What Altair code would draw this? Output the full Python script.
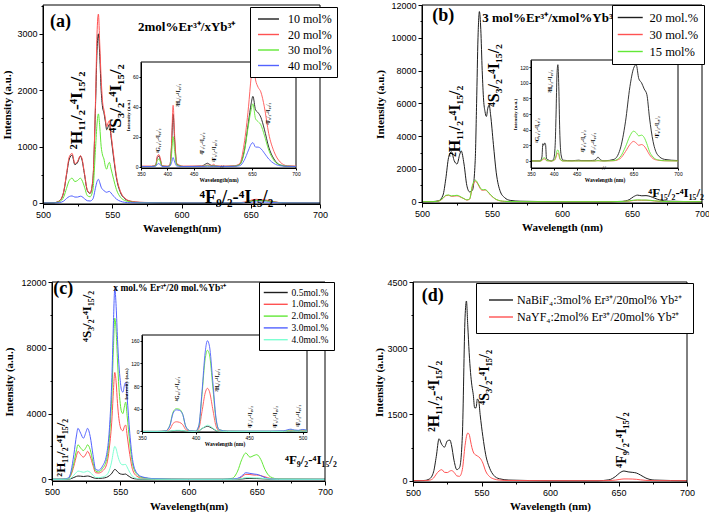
import altair as alt
import pandas as pd

SERIF = "Liberation Serif"
SANS = "Liberation Sans"
BLACK = "#1e1e1e"
RED = "#ff5252"
GREEN = "#62e836"
BLUE = "#5262ff"
CYAN = "#7dffd2"

# ---------------- main spectra: wavelength grids ----------------
wl_main = [500, 508, 512, 515, 517, 519, 521, 523, 525, 527, 528, 530, 532, 534, 536, 538, 539, 540,
           541, 542, 543, 544, 545, 546, 547, 548, 549, 551, 553, 556, 559, 563, 570, 600, 635, 643,
           648, 651, 654, 657, 660, 663, 666, 670, 676, 700]

# panel (a): 2mol% Er / x Yb
a_10 = [0, 5, 40, 200, 500, 780, 850, 680, 720, 830, 780, 500, 220, 170, 400, 1800, 2700, 3000,
        2600, 2000, 1700, 1600, 1450, 1300, 1350, 1400, 1200, 800, 450, 180, 80, 30, 10, 0, 0, 5,
        20, 40, 50, 45, 45, 35, 20, 8, 2, 0]
a_20 = [0, 5, 40, 210, 520, 820, 880, 700, 740, 840, 800, 520, 230, 175, 420, 1900, 3000, 3350,
        2800, 2200, 1800, 1650, 1500, 1350, 1420, 1460, 1250, 850, 480, 200, 90, 35, 12, 0, 0, 8,
        30, 55, 65, 58, 55, 45, 25, 10, 3, 0]
a_30 = [0, 3, 25, 110, 260, 400, 440, 380, 400, 440, 410, 280, 130, 110, 230, 1000, 1400, 1580,
        1350, 1000, 850, 780, 650, 600, 680, 720, 620, 420, 240, 100, 45, 18, 6, 0, 0, 4,
        18, 35, 42, 38, 38, 30, 18, 7, 2, 0]
a_40 = [0, 1, 8, 35, 80, 115, 125, 105, 105, 120, 115, 75, 40, 35, 70, 280, 380, 420,
        360, 280, 240, 220, 200, 190, 200, 205, 180, 120, 70, 30, 12, 5, 2, 0, 0, 2,
        8, 15, 18, 16, 16, 13, 8, 3, 1, 0]

# panel (b): 3 mol% Er / x mol% Yb
b_20 = [0, 10, 60, 400, 1400, 2700, 3050, 2500, 2300, 2900, 3100, 2300, 1000, 600, 700, 2500, 6000, 10000,
        11600, 10500, 8000, 6200, 5500, 5200, 5700, 5900, 5300, 3500, 1800, 600, 250, 80, 30, 0, 0, 20,
        120, 300, 400, 360, 370, 320, 220, 100, 30, 0]
b_30 = [0, 5, 40, 200, 370, 390, 330, 340, 360, 300, 260, 180, 100, 150, 900, 1250, 1200, 1050,
        900, 750, 700, 700, 720, 680, 600, 500, 400, 250, 130, 50, 20, 8, 3, 0, 0, 10,
        40, 70, 90, 85, 85, 70, 45, 20, 5, 0]
b_15 = [0, 5, 45, 220, 390, 410, 350, 370, 390, 330, 280, 190, 110, 170, 1000, 1320, 1250, 1100,
        950, 800, 740, 730, 740, 700, 620, 520, 420, 260, 140, 55, 22, 9, 3, 0, 0, 12,
        50, 90, 110, 100, 100, 85, 55, 25, 6, 0]

# panel (d): NaBiF4 vs NaYF4
d_bi = [0, 5, 40, 200, 550, 950, 820, 760, 900, 920, 820, 450, 250, 300, 1000, 3700, 4070, 3500,
        2900, 2450, 2150, 1950, 1650, 1650, 1850, 1800, 1500, 1000, 600, 280, 120, 45, 15, 0, 0, 20,
        100, 180, 220, 200, 190, 175, 130, 60, 15, 0]
d_y = [0, 2, 12, 60, 150, 220, 250, 190, 185, 220, 230, 190, 110, 100, 250, 800, 1000, 1080,
       1050, 900, 750, 650, 600, 580, 560, 540, 510, 400, 220, 90, 40, 15, 5, 0, 0, 3,
       15, 30, 40, 40, 38, 32, 20, 8, 2, 0]

# panel (c): x mol% Er / 20 mol% Yb
wl_c = [500, 508, 512, 514, 516, 518, 519, 521, 523, 525, 526, 528, 530, 532, 534, 537, 540, 542,
        544, 545, 546, 547, 548, 549, 550, 551, 552, 553, 554, 555, 557, 559, 562, 566, 575, 600,
        625, 632, 636, 639, 642, 645, 648, 650, 653, 656, 660, 666, 700]
c_05 = [0, 1, 8, 40, 110, 180, 200, 190, 170, 190, 200, 170, 100, 60, 55, 70, 120, 220,
        380, 520, 600, 560, 460, 380, 330, 310, 300, 310, 320, 260, 150, 60, 20, 8, 2, 0,
        0, 0, 5, 20, 45, 50, 45, 45, 35, 25, 8, 1, 0]
c_10 = [0, 5, 50, 280, 800, 1450, 1700, 1500, 1350, 1550, 1700, 1400, 850, 400, 380, 500, 900, 1900,
        3800, 5400, 6500, 5900, 4600, 3700, 3200, 3000, 2950, 3200, 3300, 2700, 1500, 600, 200, 70, 20, 0,
        0, 0, 30, 150, 300, 290, 260, 260, 220, 150, 50, 5, 0]
c_20 = [0, 8, 60, 350, 1000, 1800, 2100, 1900, 1750, 1950, 2100, 1800, 1050, 500, 450, 650, 1200, 2500,
        5500, 8000, 9800, 9000, 7200, 5600, 4600, 4100, 4000, 4400, 4700, 3900, 2200, 950, 320, 120, 30, 0,
        0, 60, 500, 1200, 1600, 1350, 1450, 1500, 1200, 600, 150, 20, 0]
c_30 = [0, 10, 80, 500, 1500, 2700, 3100, 2800, 2500, 2900, 3100, 2600, 1500, 600, 550, 800, 1500, 3000,
        6500, 9500, 11600, 10500, 8500, 7000, 6000, 5400, 5300, 5700, 5900, 5000, 2800, 1200, 400, 150, 40, 0,
        0, 20, 60, 200, 400, 360, 320, 300, 220, 100, 25, 5, 0]
c_40 = [0, 2, 15, 80, 250, 430, 500, 470, 430, 470, 500, 420, 250, 110, 100, 140, 260, 550,
        1200, 1700, 2000, 1850, 1500, 1200, 1000, 900, 880, 900, 900, 750, 420, 180, 60, 20, 5, 0,
        0, 0, 10, 50, 100, 95, 85, 85, 70, 45, 15, 2, 0]

# ---------------- inset spectra ----------------
wl_ia = [350, 370, 378, 381, 384, 387, 390, 400, 405, 408, 411, 414, 418, 430, 465, 472, 476, 480, 485,
         488, 492, 502, 617, 630, 636, 641, 646, 649, 651, 654, 657, 660, 664, 669, 675, 682, 690, 700]
ia_10 = [0, 0, 1, 6, 7, 4, 0.3, 0, 1, 13, 35, 17, 1.5, 0, 0.3, 1.5, 2.2, 1.5, 0.5,
         0.5, 0.3, 0, 0, 0.3, 1.5, 10, 30, 42, 47, 38, 36, 33, 25, 13, 5, 1, 0.2, 0]
ia_20 = [0.3, 0.3, 1, 7, 8, 5, 0.5, 0.3, 1, 15, 41, 20, 2, 0.3, 0.3, 0.5, 1, 0.8, 0.8,
         1.5, 0.5, 0.3, 0.3, 0.5, 2, 15, 40, 60, 70, 58, 53, 50, 40, 22, 10, 3, 0.5, 0.3]
ia_30 = [0, 0, 0.5, 4, 5, 3, 0.2, 0, 0.5, 8, 20, 10, 1, 0, 0, 0.3, 0.5, 0.3, 0.2,
         0.3, 0.2, 0, 0, 0.2, 1.2, 9, 28, 38, 42, 32, 30, 28, 21, 11, 4, 1, 0.2, 0]
ia_40 = [0, 0, 0.2, 1.5, 2, 1, 0, 0, 0.3, 2.5, 6, 3, 0.3, 0, 0, 0.1, 0.2, 0.1, 0.1,
         0.1, 0.1, 0, 0, 0.1, 0.5, 4, 11, 15, 16, 13, 13, 12, 9, 5, 2, 0.5, 0.1, 0]

wl_ib = [350, 370, 374, 376, 378, 380, 382, 384, 395, 400, 403, 405, 407, 409, 411, 413, 416, 420, 440,
         455, 460, 480, 490, 494, 497, 500, 504, 508, 618, 628, 635, 641, 646, 650, 653, 656, 659, 662,
         665, 668, 672, 677, 685, 700]
ib_20 = [0, 0, 5, 22, 20, 23, 21, 3, 0, 3, 20, 60, 110, 123, 95, 40, 8, 1, 0.3,
         1, 0.5, 0.5, 1, 3, 5, 3, 1, 0.3, 0.3, 2, 15, 50, 95, 118, 123, 105, 100, 92,
         85, 55, 25, 8, 2, 0.5]
ib_30 = [0, 0, 0.5, 2, 2.5, 2.5, 2, 0.3, 0, 0.5, 2, 5, 9, 10, 8, 3, 0.8, 0, 0,
         0, 0, 0, 0, 0.2, 0.3, 0.2, 0, 0, 0, 0.3, 3, 12, 21, 25, 23, 20, 21, 19,
         14, 8, 3, 1, 0.2, 0]
ib_15 = [0, 0, 1, 3, 4, 4, 3, 0.5, 0, 0.8, 3, 7, 13, 14, 11, 4, 1, 0, 0,
         0, 0, 0, 0, 0.3, 0.5, 0.3, 0, 0, 0, 0.5, 5, 18, 32, 38, 36, 32, 33, 30,
         22, 12, 5, 1.5, 0.3, 0]

wl_ic = [350, 365, 372, 376, 379, 382, 385, 388, 391, 395, 400, 403, 406, 409, 411, 413, 416, 419, 422,
         430, 450, 470, 482, 486, 489, 492, 496, 500, 504]
ic_05 = [0, 0, 0, 0.3, 1, 1.5, 1.5, 1, 0.3, 0, 0, 1, 5, 8, 9, 8, 5, 1.5, 0.2, 0, 0, 0, 0, 0.2, 0.3,
         0.2, 0.1, 0.2, 0.1]
ic_10 = [0, 0, 0.5, 4, 14, 17, 16, 12, 3, 0.5, 0.3, 5, 35, 68, 76, 70, 40, 10, 1, 0.3, 0, 0, 0.3, 1,
         1.5, 1, 0.8, 1.2, 0.8]
ic_20 = [0, 0, 1, 11, 34, 40, 39, 30, 8, 1, 0.5, 9, 65, 128, 143, 135, 80, 22, 3, 0.5, 0.3, 0.3, 0.5,
         2, 3, 2, 1.5, 3, 1.5]
ic_30 = [0, 0, 1, 10, 32, 38, 37, 30, 8, 1, 0.5, 10, 70, 140, 160, 150, 90, 25, 3, 0.5, 0.5, 0.5, 1,
         3, 4, 2.5, 2, 3.5, 2]
ic_40 = [0, 0, 0, 0.5, 1.5, 2, 2, 1.5, 0.5, 0, 0, 1, 5, 9, 11, 10, 6, 2, 0.3, 0, 0, 0, 0, 0.3, 0.5,
         0.3, 0.2, 0.3, 0.2]

# ---------------- series names ----------------
names_a = ["10 mol%", "20 mol%", "30 mol%", "40 mol%"]
names_b = ["20 mol.%", "30 mol.%", "15 mol%"]
names_c = ["0.5mol.%", "1.0mol.%", "2.0mol.%", "3.0mol.%", "4.0mol.%"]
names_d = ["NaBiF\u2084:3mol% Er\u00b3\u207a/20mol% Yb\u00b2\u207a",
           "NaYF\u2084:2mol% Er\u00b3\u207a/20mol% Yb\u00b2\u207a"]

# ---------------- annotation texts ----------------
T_H = "\u00b2H\u2081\u2081/\u2082-\u2074I\u2081\u2085/\u2082"
T_S = "\u2074S\u2083/\u2082-\u2074I\u2081\u2085/\u2082"
T_F = "\u2074F\u2089/\u2082-\u2074I\u2081\u2085/\u2082"
T_F15 = "\u2074F\u2081\u2085/\u2082-\u2074I\u2081\u2085/\u2082"
T_G = "\u2074G\u2081\u2081/\u2082-\u2074I\u2081\u2085/\u2082"
T_H9 = "\u00b2H\u2089/\u2082-\u2074I\u2081\u2085/\u2082"
T_F7 = "\u2074F\u2087/\u2082-\u2074I\u2081\u2085/\u2082"
T_F5 = "\u2074F\u2085/\u2082-\u2074I\u2081\u2085/\u2082"
T_F3 = "\u2074F\u2083/\u2082-\u2074I\u2081\u2085/\u2082"

title_a = "2mol%Er\u00b3\u207a/xYb\u00b3\u207a"
title_b = "3 mol%Er\u00b3\u207a/xmol%Yb\u00b3\u207a"
title_c = "x mol.% Er\u00b3\u207a/20 mol.%Yb\u00b3\u207a"

# annotation anchors (data units of each panel)
a_rot_t, a_rot_x, a_rot_y = [T_H, T_S], [524.2, 552.7], [950, 1241]
b_rot_t, b_rot_x, b_rot_y = [T_H, T_S], [523.8, 551.6], [2725, 5775]
c_rot_t, c_rot_x, c_rot_y = [T_S, T_H], [525.6, 506.8], [8355, 158]
d_rot_t, d_rot_x, d_rot_y = [T_H], [515.1], [1104]
d_rot2_t, d_rot2_x, d_rot2_y = [T_S, T_F], [552.4, 652.5], [1716, 288]

ia_lab_t = [T_G, T_H9, T_F7, T_F5, T_F]
ia_lab_x = [382, 420, 466, 489, 668]
ia_lab_y = [9, 40, 8, 3, 28]
ib_lab_t = [T_G, T_H9, T_F5, T_F7, T_F]
ib_lab_x = [364, 392, 464, 486, 676]
ib_lab_y = [23, 87, 11, 8, 29]
ic_lab_t = [T_G, T_H9, T_F3, T_F5, T_F7]
ic_lab_x = [383, 420, 451, 474, 496]
ic_lab_y = [53, 70, 6, 6, 8]


def long_df(xs, cols, names):
    rows = []
    for name, vals in zip(names, cols):
        assert len(vals) == len(xs), (name, len(vals), len(xs))
        for x, v in zip(xs, vals):
            rows.append({"x": x, "y": v, "s": name})
    return pd.DataFrame(rows)


def sc(d, r):
    return alt.Scale(domain=d, range=r, nice=False, zero=False)


def axis(orient, offset, values, title=None, lab=9, tsize=11, tpad=3, tick=4,
         labels=True, domain=True, lpad=2, tfont=SERIF):
    return alt.Axis(orient=orient, offset=offset, values=values, title=title, grid=False,
                    format="d", labels=labels, domain=domain, domainColor="black", domainWidth=1,
                    ticks=True, tickSize=tick, tickColor="black", tickWidth=1,
                    labelFont=SANS, labelFontSize=lab, labelColor="black", labelPadding=lpad,
                    labelFlush=False, labelOverlap=False, titleFont=tfont, titleFontSize=tsize,
                    titleFontWeight="bold", titleColor="black", titlePadding=tpad, zindex=1)


def lines(df, xs, ys, names, colors, xax, yax, legend, width=1.0):
    return alt.Chart(df).mark_line(strokeWidth=width, interpolate="monotone").encode(
        x=alt.X("x:Q", scale=xs, axis=xax),
        y=alt.Y("y:Q", scale=ys, axis=yax),
        color=alt.Color("s:N", scale=alt.Scale(domain=names, range=colors), legend=legend),
    )


def frame(xs, ys, xd, yd, fill="white", opacity=0.0, xax=None, yax=None):
    df = pd.DataFrame({"x": [xd[0]], "x2": [xd[-1]], "y": [yd[0]], "y2": [yd[-1]]})
    return alt.Chart(df).mark_rect(fill=fill, fillOpacity=opacity, stroke="black",
                                   strokeWidth=1).encode(
        x=alt.X("x:Q", scale=xs, axis=xax), x2="x2",
        y=alt.Y("y:Q", scale=ys, axis=yax), y2="y2")


def texts(tl, xl, yl, xs, ys, size, angle=0, weight="bold", font=SERIF, align="left"):
    df = pd.DataFrame({"t": tl, "x": xl, "y": yl})
    return alt.Chart(df).mark_text(fontSize=size, angle=angle, align=align, baseline="middle",
                                   font=font, fontWeight=weight, color="black").encode(
        x=alt.X("x:Q", scale=xs, axis=None),
        y=alt.Y("y:Q", scale=ys, axis=None),
        text="t:N")


def legend(x, y, path, size, lsize, loff, pad, rpad):
    return alt.Legend(orient="none", legendX=x, legendY=y, title=None, direction="vertical",
                      symbolType=path, symbolSize=size, symbolStrokeWidth=1.4,
                      labelFont=SERIF, labelFontSize=lsize, labelColor="black", labelOffset=loff,
                      labelLimit=400, padding=pad, rowPadding=rpad, strokeColor="black",
                      fillColor="white", symbolOpacity=1)


layers = []
H = 514

# ======================= panel (a) =======================
xd = [500, 700]; yd = [-18, 3511]
xa = sc(xd, [43, 320]); ya = sc(yd, [204, 5])
layers.append(lines(long_df(wl_main, [a_10, a_20, a_30, a_40], names_a), xa, ya, names_a,
                    [BLACK, RED, GREEN, BLUE],
                    axis("bottom", 204 - H, [500, 550, 600, 650, 700], "Wavelength(nm)", tpad=3),
                    axis("left", -43, [0, 1000, 2000, 3000], "Intensity (a.u.)", tpad=4),
                    legend(250, 7, "M-0.67,0H2.83", 144, 12, 19, 5, 2.5)))
layers.append(frame(xa, ya, xd, yd,
                    xax=axis("bottom", 204 - H, [525, 575, 625, 675], labels=False, domain=False, tick=2),
                    yax=axis("left", -43, [500, 1500, 2500, 3500], labels=False, domain=False, tick=2)))
layers.append(texts(a_rot_t, a_rot_x, a_rot_y, xa, ya, 17.5, angle=270))
layers.append(texts([T_F], [613], [110], xa, ya, 18.5))
layers.append(texts(["(a)"], [505], [3209], xa, ya, 18))
layers.append(texts([title_a], [568.6], [3120], xa, ya, 13))
# inset (a)
ixd = [350, 502, 617, 700]; iyd = [-1, 70]
ixa = sc(ixd, [141, 221, 223, 296]); iya = sc(iyd, [168, 62])
layers.append(frame(ixa, iya, ixd, iyd, opacity=1.0))
layers.append(lines(long_df(wl_ia, [ia_10, ia_20, ia_30, ia_40], names_a), ixa, iya, names_a,
                    [BLACK, RED, GREEN, BLUE],
                    axis("bottom", 168 - H, [350, 400, 450, 650, 700], "Wavelength(nm)", lab=5,
                         tsize=5.5, tpad=1, tick=2, lpad=1),
                    axis("left", -141, [0, 20, 40, 60], "Intensity (a.u.)", lab=5, tsize=5,
                         tpad=2, tick=2, lpad=1),
                    None, width=0.9))
layers.append(texts(ia_lab_t, ia_lab_x, ia_lab_y, ixa, iya, 5.5, angle=270))
layers.append(texts(["//"], [560], [0], ixa, iya, 7, align="center", weight="normal"))

# ======================= panel (b) =======================
yd = [-80, 12000]
xb = sc(xd, [422, 702]); yb = sc(yd, [203, 5])
layers.append(lines(long_df(wl_main, [b_20, b_30, b_15], names_b), xb, yb, names_b,
                    [BLACK, RED, GREEN],
                    axis("bottom", 203 - H, [500, 550, 600, 650, 700], "Wavelength (nm)", tpad=3),
                    axis("left", -422, [0, 2000, 4000, 6000, 8000, 10000, 12000], "Intensity (a.u.)", tpad=5),
                    legend(612, 5, "M-1.08,0H2.92", 156, 12.5, 18, 5.5, 3)))
layers.append(frame(xb, yb, xd, yd,
                    xax=axis("bottom", 203 - H, [525, 575, 625, 675], labels=False, domain=False, tick=2),
                    yax=axis("left", -422, [1000, 3000, 5000, 7000, 9000, 11000], labels=False,
                             domain=False, tick=2)))
layers.append(texts(b_rot_t, b_rot_x, b_rot_y, xb, yb, 16, angle=270))
layers.append(texts([T_F15], [661.6], [530], xb, yb, 13))
layers.append(texts(["(b)"], [507.4], [11323], xb, yb, 18))
layers.append(texts([title_b], [543], [11200], xb, yb, 13))
# inset (b)
ixd = [350, 508, 618, 700]; iyd = [-9, 129]
ixb = sc(ixd, [531, 603, 605, 678]); iyb = sc(iyd, [168, 60])
layers.append(frame(ixb, iyb, ixd, iyd, opacity=1.0))
layers.append(lines(long_df(wl_ib, [ib_20, ib_30, ib_15], names_b), ixb, iyb, names_b,
                    [BLACK, RED, GREEN],
                    axis("bottom", 168 - H, [350, 400, 450, 650, 700], "Wavelength (nm)", lab=5,
                         tsize=5.5, tpad=1, tick=2, lpad=1),
                    axis("left", -531, [0, 20, 40, 60, 80, 100, 120], "Intensity (a.u.)", lab=5,
                         tsize=5, tpad=2, tick=2, lpad=1),
                    None, width=0.9))
layers.append(texts(ib_lab_t, ib_lab_x, ib_lab_y, ixb, iyb, 5.5, angle=270))
layers.append(texts(["//"], [563], [-9], ixb, iyb, 7, align="center", weight="normal"))

# ======================= panel (c) =======================
yd = [-103, 12000]
xc = sc(xd, [52, 325]); yc = sc(yd, [481, 282])
layers.append(lines(long_df(wl_c, [c_05, c_10, c_20, c_30, c_40], names_c), xc, yc, names_c,
                    [BLACK, RED, GREEN, BLUE, CYAN],
                    axis("bottom", 481 - H, [500, 550, 600, 650, 700], "Wavelength(nm)", tpad=4),
                    axis("left", -52, [0, 4000, 8000, 12000], "Intensity (a.u.)", tpad=6),
                    legend(259, 282, "M-1.21,0H3.84", 90, 9.5, 16.5, 5, 1.8)))
layers.append(frame(xc, yc, xd, yd,
                    xax=axis("bottom", 481 - H, [525, 575, 625, 675], labels=False, domain=False, tick=2),
                    yax=axis("left", -52, [2000, 6000, 10000], labels=False, domain=False, tick=2)))
layers.append(texts(c_rot_t, c_rot_x, c_rot_y, xc, yc, 13, angle=270))
layers.append(texts([T_F], [670.7], [1172], xc, yc, 13))
layers.append(texts(["(c)"], [501], [11554], xc, yc, 18))
layers.append(texts([title_c], [544.9], [11615], xc, yc, 9.5))
# inset (c)
ixd = [350, 504]; iyd = [-1, 170]
ixc = sc(ixd, [142, 307]); iyc = sc(iyd, [432, 335])
layers.append(frame(ixc, iyc, ixd, iyd, opacity=1.0))
layers.append(lines(long_df(wl_ic, [ic_05, ic_10, ic_20, ic_30, ic_40], names_c), ixc, iyc, names_c,
                    [BLACK, RED, GREEN, BLUE, CYAN],
                    axis("bottom", 432 - H, [350, 400, 450, 500], "Wavelength (nm)", lab=5,
                         tsize=5.5, tpad=1, tick=2, lpad=1),
                    axis("left", -142, [0, 40, 80, 120, 160], "Intensity (a.u.)", lab=5,
                         tsize=5, tpad=2, tick=2, lpad=1),
                    None, width=0.9))
layers.append(texts(ic_lab_t, ic_lab_x, ic_lab_y, ixc, iyc, 5.5, angle=270))

# ======================= panel (d) =======================
yd = [-29, 4500]
xdd = sc(xd, [413, 687]); ydd = sc(yd, [482, 282])
layers.append(lines(long_df(wl_main, [d_bi, d_y], names_d), xdd, ydd, names_d,
                    [BLACK, RED],
                    axis("bottom", 482 - H, [500, 550, 600, 650, 700], "Wavelength (nm)", tpad=3),
                    axis("left", -413, [0, 1500, 3000, 4500], "Intensity (a.u.)", tpad=2),
                    legend(476, 283, "M-0.67,0H3.33", 144, 12, 17, 10, 4)))
layers.append(frame(xdd, ydd, xd, yd,
                    xax=axis("bottom", 482 - H, [525, 575, 625, 675], labels=False, domain=False, tick=2),
                    yax=axis("left", -413, [750, 2250, 3750], labels=False, domain=False, tick=2)))
layers.append(texts(d_rot_t, d_rot_x, d_rot_y, xdd, ydd, 16, angle=270))
layers.append(texts(d_rot2_t, d_rot2_x, d_rot2_y, xdd, ydd, 14, angle=270))
layers.append(texts(["(d)"], [506.4], [4172], xdd, ydd, 18))

chart = alt.layer(*layers).resolve_scale(
    x="independent", y="independent", color="independent"
).resolve_axis(x="independent", y="independent").resolve_legend(color="independent").properties(
    width=709, height=514, autosize=alt.AutoSizeParams(type="none"), padding=0
).configure_view(stroke=None)

chart.save("out.html", embed_options={"renderer": "svg", "actions": False})
